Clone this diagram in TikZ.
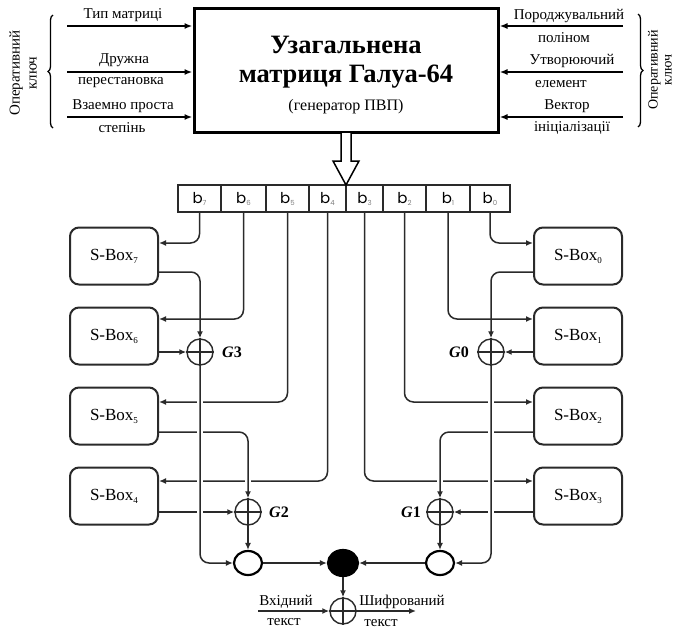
\documentclass[tikz,border=0pt]{standalone}
\usepackage{fontspec}
\setmainfont{Liberation Serif}
\newfontfamily\regfont{Poppins}
\usetikzlibrary{arrows.meta,shapes.geometric,decorations.pathreplacing}
\definecolor{ln}{HTML}{2A2A2A}
\newcommand\xorplus[1]{\draw[ln,line width=1.4pt] (#1.north)--(#1.south) (#1.west)--(#1.east);}
\newcommand\bsub[1]{b\raisebox{-2pt}{\fontsize{7}{8}\selectfont\color{gray}#1}}
\newcommand\sbx[1]{S-Box\raisebox{-3pt}{\fontsize{9}{10}\selectfont #1}}
\begin{document}
\begin{tikzpicture}[x=1pt,y=-1pt,
 conn/.style={draw=ln,line width=1.5pt,rounded corners=9pt},
 arr/.style={conn,-{Latex[length=7pt,width=6pt]}},
 karr/.style={draw=black,line width=2pt,-{Latex[length=8pt,width=6pt]}},
 sbox/.style={draw=ln,line width=2pt,rounded corners=9pt,minimum width=88pt,minimum height=57pt,inner sep=0,font=\fontsize{17}{20}\selectfont},
 cell/.style={draw=ln,line width=1.5pt,minimum height=27pt,inner sep=0,font=\regfont\fontsize{15}{17}\selectfont},
 xor/.style={circle,draw=ln,line width=1.4pt,minimum size=26pt,inner sep=0,fill=white},
 junc/.style={ellipse,draw=black,line width=2.2pt,minimum width=28pt,minimum height=24pt,inner sep=0},
 ktxt/.style={font=\fontsize{15}{17}\selectfont,inner sep=0},
 glab/.style={font=\fontsize{16}{18}\selectfont\bfseries,inner sep=0},
 bridge/.style={white,line width=5.5pt}
]
\useasboundingbox (0,0) rectangle (677,630);
% generator box
\node[draw=black,line width=3pt,minimum width=304pt,minimum height=124pt,inner sep=0] (gen) at (346,70) {};
\node[font=\fontsize{26.5}{30}\selectfont\bfseries] (t1) at (346,45) {Узагальнена};
\node[font=\fontsize{26.5}{30}\selectfont\bfseries] (t2) at (346,77) {матриця Галуа-64};
\node[font=\fontsize{16}{18}\selectfont] (t3) at (346,107) {(генератор ПВП)};
% left inputs
\coordinate (la1) at (67,26);
\coordinate (la2) at (67,72);
\coordinate (la3) at (67,117);
\draw[karr] (la1) -- (la1 -| gen.west);
\draw[karr] (la2) -- (la2 -| gen.west);
\draw[karr] (la3) -- (la3 -| gen.west);
\node[ktxt] (l1) at (123,15) {Тип матриці};
\node[ktxt] (l2) at (124,60) {Дружна};
\node[ktxt] (l3) at (121,83) {перестановка};
\node[ktxt] (l4) at (123,106) {Взаемно проста};
\node[ktxt] (l5) at (122,128) {степінь};
\draw[line width=1.3pt,decorate,decoration={brace,amplitude=5pt}] (53,128) -- (53,15);
\node[ktxt,rotate=90,align=center] (lk) at (23,73) {Оперативний\\[0pt]ключ};
% right inputs
\coordinate (ra1) at (623,26);
\coordinate (ra2) at (623,72);
\coordinate (ra3) at (623,117);
\draw[karr] (ra1) -- (ra1 -| gen.east);
\draw[karr] (ra2) -- (ra2 -| gen.east);
\draw[karr] (ra3) -- (ra3 -| gen.east);
\node[ktxt] (r1) at (569,16) {Породжувальний};
\node[ktxt] (r2) at (564,38) {поліном};
\node[ktxt] (r3) at (572,61) {Утворюючий};
\node[ktxt] (r4) at (561,84) {елемент};
\node[ktxt] (r5) at (567,106) {Вектор};
\node[ktxt] (r6) at (572,128) {ініціалізації};
\draw[line width=1.3pt,decorate,decoration={brace,amplitude=5pt}] (638,14) -- (638,127);
\node[ktxt,rotate=90,align=center,font=\fontsize{14}{14}\selectfont] (rk) at (660,70) {Оперативний\\ключ};
% register
\node[cell,minimum width=43pt] (c7) at (199.5,198.5) {\bsub{7}};
\node[cell,minimum width=45pt] (c6) at (243.5,198.5) {\bsub{6}};
\node[cell,minimum width=43pt] (c5) at (287.5,198.5) {\bsub{5}};
\node[cell,minimum width=37pt] (c4) at (327.5,198.5) {\bsub{4}};
\node[cell,minimum width=37pt] (c3) at (364.5,198.5) {\bsub{3}};
\node[cell,minimum width=43pt] (c2) at (404.5,198.5) {\bsub{2}};
\node[cell,minimum width=44pt] (c1) at (448,198.5) {\bsub{1}};
\node[cell,minimum width=40pt] (c0) at (490,198.5) {\bsub{0}};
% hollow arrow
\draw[line width=1.5pt,fill=white,line join=miter] (341,133) -- (341,161) -- (333,161) -- (346,185) -- (359,161) -- (351,161) -- (351,133);
% S-boxes
\node[sbox] (s7) at (114,256) {\sbx{7}};
\node[sbox] (s6) at (114,336) {\sbx{6}};
\node[sbox] (s5) at (114,416) {\sbx{5}};
\node[sbox] (s4) at (114,496) {\sbx{4}};
\node[sbox] (s0) at (578,256) {\sbx{0}};
\node[sbox] (s1) at (578,336) {\sbx{1}};
\node[sbox] (s2) at (578,416) {\sbx{2}};
\node[sbox] (s3) at (578,496) {\sbx{3}};
% XORs and junctions
\node[xor] (g3) at (200,352) {};
\node[xor] (g2) at (248,512) {};
\node[xor] (g0) at (491,352) {};
\node[xor] (g1) at (440,512) {};
\xorplus{g3}\xorplus{g2}\xorplus{g0}\xorplus{g1}
\node[glab] (g3l) at (232,352) {\textit{G}3};
\node[glab] (g2l) at (279,512) {\textit{G}2};
\node[glab] (g0l) at (459,352) {\textit{G}0};
\node[glab] (g1l) at (411,512) {\textit{G}1};
\node[junc] (lc) at (248,563) {};
\node[junc] (rc) at (440,563) {};
\node[junc,fill=black,minimum width=30pt,minimum height=26pt] (fc) at (343,563) {};
\node[xor] (bx) at (343,611) {};
\xorplus{bx}
% register lines
\draw[arr] (c7.south) |- ([yshift=13pt]s7.east);
\draw[arr] (c6.south) |- ([yshift=17pt]s6.east);
\draw[arr] (c5.south) |- ([yshift=14pt]s5.east);
\draw[arr] (c4.south) |- ([yshift=15pt]s4.east);
\draw[arr] (c0.south) |- ([yshift=13pt]s0.west);
\draw[arr] (c1.south) |- ([yshift=17pt]s1.west);
\draw[arr] (c2.south) |- ([yshift=14pt]s2.west);
\draw[arr] (c3.south) |- ([yshift=15pt]s3.west);
% S-box outputs
\draw[arr] ([yshift=-16pt]s7.east) -| (g3.north);
\draw[arr] (s6.east |- g3) -- (g3.west);
\draw[arr] ([yshift=-16pt]s0.west) -| (g0.north);
\draw[arr] (s1.west |- g0) -- (g0.east);
\draw[bridge] (248,445) -- (248,496);
\draw[bridge] (440,445) -- (440,496);
\draw[arr] ([yshift=-16pt]s5.east) -| (g2.north);
\draw[arr] (s4.east |- g2) -- (g2.west);
\draw[arr] ([yshift=-16pt]s2.west) -| (g1.north);
\draw[arr] (s3.west |- g1) -- (g1.east);
\draw[bridge] (200,372) -- (200,540);
\draw[bridge] (491,372) -- (491,540);
% to junctions
\draw[arr] (g3.south) |- (lc.west);
\draw[arr] (g2.south) -- (lc.north);
\draw[arr] (g0.south) |- (rc.east);
\draw[arr] (g1.south) -- (rc.north);
\draw[arr] (lc.east) -- (fc.west);
\draw[arr] (rc.west) -- (fc.east);
\draw[arr] (fc.south) -- (bx.north);
% plaintext / ciphertext
\coordinate (pin) at (258,611);
\coordinate (pout) at (416,611);
\draw[arr] (pin) -- (bx.west);
\draw[arr] (bx.east) -- (pout);
\node[ktxt] (v1) at (286,602) {Вхідний};
\node[ktxt] (v2) at (284,622) {текст};
\node[ktxt] (w1) at (402,602) {Шифрований};
\node[ktxt] (w2) at (381,623) {текст};
\end{tikzpicture}
\end{document}
